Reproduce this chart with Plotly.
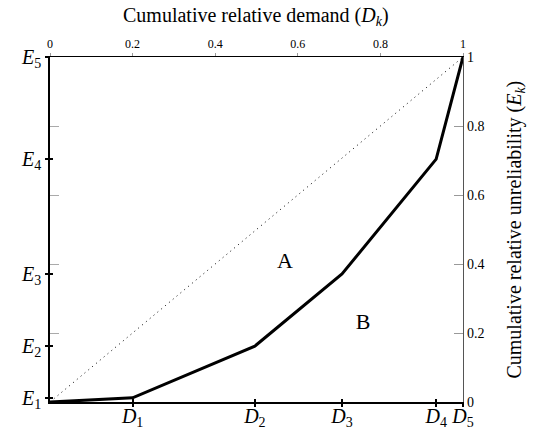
import plotly.graph_objects as go

# Data
D_vals = [0.0, 0.20, 0.496, 0.707, 0.935, 1.0]   # cumulative relative demand
E_vals = [0.0, 0.012, 0.162, 0.371, 0.704, 1.0]  # cumulative relative unreliability
D_ticks = [0.20, 0.496, 0.707, 0.935, 1.0]
D_labels = ["<i>D</i><sub>1</sub>", "<i>D</i><sub>2</sub>", "<i>D</i><sub>3</sub>",
            "<i>D</i><sub>4</sub>", "<i>D</i><sub>5</sub>"]
E_ticks = [0.012, 0.162, 0.371, 0.704, 1.0]
E_labels = ["<i>E</i><sub>1</sub>", "<i>E</i><sub>2</sub>", "<i>E</i><sub>3</sub>",
            "<i>E</i><sub>4</sub>", "<i>E</i><sub>5</sub>"]
frac_ticks = [0, 0.2, 0.4, 0.6, 0.8, 1]
frac_labels = ["0", "0.2", "0.4", "0.6", "0.8", "1"]
diag = [0, 1]
region_labels = ["A", "B"]
region_x = [0.569, 0.758]
region_y = [0.403, 0.229]

FONT = "Liberation Serif, Times New Roman, Times, serif"

fig = go.Figure()
fig.add_trace(go.Scatter(x=diag, y=diag, mode="lines",
                         line=dict(color="black", width=1, dash="1px,4px"),
                         showlegend=False, hoverinfo="skip"))
fig.add_trace(go.Scatter(x=D_vals, y=E_vals, mode="lines",
                         line=dict(color="black", width=3),
                         showlegend=False))
fig.add_trace(go.Scatter(x=region_x, y=region_y, mode="text", text=region_labels,
                         textfont=dict(family=FONT, size=22, color="black"),
                         showlegend=False, hoverinfo="skip"))
# invisible traces for the secondary axes
fig.add_trace(go.Scatter(x=diag, y=diag, xaxis="x2", yaxis="y2", mode="lines",
                         line=dict(color="rgba(0,0,0,0)"), showlegend=False,
                         hoverinfo="skip"))
fig.add_trace(go.Scatter(x=diag, y=diag, xaxis="x3", yaxis="y3", mode="lines",
                         line=dict(color="rgba(0,0,0,0)"), showlegend=False,
                         hoverinfo="skip"))

fig.update_layout(
    width=537, height=431,
    margin=dict(l=50, r=74, t=57, b=29, autoexpand=False),
    paper_bgcolor="white", plot_bgcolor="white",
    font=dict(family=FONT, color="black"),
    xaxis=dict(range=[0, 1], tickvals=D_ticks, ticktext=D_labels, automargin=False,
               showgrid=False, zeroline=False, showline=True, linecolor="black",
               linewidth=1.5, ticks="outside", ticklen=3, tickwidth=2,
               tickcolor="black", ticklabelstandoff=-8,
               tickfont=dict(family=FONT, size=20)),
    xaxis2=dict(range=[0, 1], overlaying="x", side="top", anchor="y", automargin=False,
                tickvals=frac_ticks, ticktext=frac_labels,
                showgrid=False, zeroline=False, showline=True, linecolor="black",
                linewidth=1.2, ticks="outside", ticklen=3, tickcolor="#999999",
                tickfont=dict(family=FONT, size=12)),
    xaxis3=dict(range=[0, 1], overlaying="x", side="bottom", anchor="y3", automargin=False,
                tickvals=D_ticks, showticklabels=False, showgrid=False, zeroline=False,
                showline=False, ticks="inside", ticklen=3, tickwidth=2, tickcolor="black"),
    yaxis=dict(range=[0, 1], tickvals=E_ticks, ticktext=E_labels, automargin=False,
               showgrid=False, zeroline=False, showline=True, linecolor="black",
               linewidth=1.5, ticks="outside", ticklen=3, tickwidth=2,
               tickcolor="black", tickfont=dict(family=FONT, size=20),
               minor=dict(tickvals=[0.2, 0.4, 0.6, 0.8], ticks="inside",
                          ticklen=9, tickcolor="#aaaaaa", tickwidth=1)),
    yaxis2=dict(range=[0, 1], overlaying="y", side="right", anchor="x", automargin=False,
                tickvals=frac_ticks, ticktext=frac_labels,
                showgrid=False, zeroline=False, showline=True, linecolor="#555555",
                linewidth=1.2, ticks="inside", ticklen=9, tickcolor="#999999",
                tickfont=dict(family=FONT, size=14)),
    yaxis3=dict(range=[0, 1], overlaying="y", side="left", anchor="x3", automargin=False,
                tickvals=E_ticks, showticklabels=False, showgrid=False, zeroline=False,
                showline=False, ticks="inside", ticklen=3, tickwidth=2, tickcolor="black"),
    annotations=[
        dict(text="Cumulative relative demand (<i>D</i><sub><i>k</i></sub>)",
             xref="paper", yref="paper", x=0.499, y=1.116, showarrow=False,
             xanchor="center", yanchor="middle", font=dict(family=FONT, size=20)),
        dict(text="Cumulative relative unreliability (<i>E</i><sub><i>k</i></sub>)",
             xref="paper", yref="paper", x=1.126, y=0.5, showarrow=False,
             textangle=-90, xanchor="center", yanchor="middle",
             font=dict(family=FONT, size=20)),
    ],
)

fig.write_html("out.html", config={"displayModeBar": False},
               post_script="document.body.style.margin='0';document.body.style.padding='0';")
